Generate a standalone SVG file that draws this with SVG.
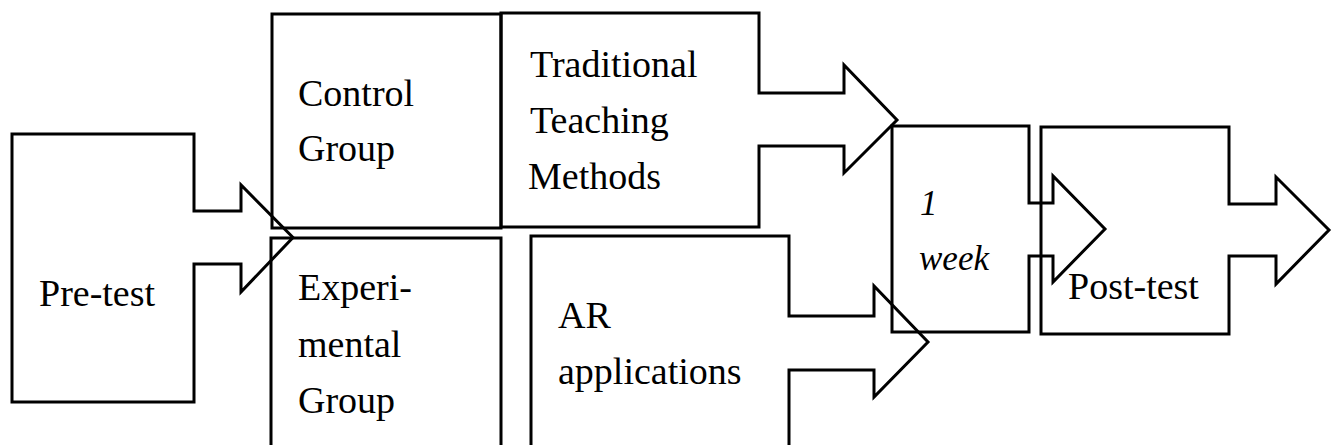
<svg xmlns="http://www.w3.org/2000/svg" width="1332" height="445" viewBox="0 0 1332 445">
<style>
.s{fill:none;stroke:#000;stroke-width:3;stroke-linejoin:miter}
.t{font-family:"Liberation Serif","Times New Roman",serif;font-size:38px;fill:#000}
.i{font-family:"Liberation Serif","Times New Roman",serif;font-size:35px;font-style:italic;fill:#000}
</style>
<rect width="1332" height="445" fill="#fff"/>
<g id="pretest">
<path class="s" d="M12,134 H194 V211 H241 V185 L293,237.5 L241,292 V264 H194 V402 H12 Z"/>
<text class="t" x="39" y="306">Pre-test</text>
</g>
<g id="control">
<rect class="s" x="272" y="14" width="229" height="214"/>
<text class="t" x="298" y="106">Control</text>
<text class="t" x="298" y="161">Group</text>
</g>
<g id="traditional">
<path class="s" d="M501,13 H759 V93 H844 V65 L897,120 L844,173 V146 H759 V227 H501 Z"/>
<text class="t" x="530" y="77">Traditional</text>
<text class="t" x="530" y="133">Teaching</text>
<text class="t" x="528" y="189">Methods</text>
</g>
<g id="experimental">
<path class="s" d="M271,460 V238 H501 V460"/>
<text class="t" x="298" y="300">Experi-</text>
<text class="t" x="298" y="357">mental</text>
<text class="t" x="298" y="413">Group</text>
</g>
<g id="ar">
<path class="s" d="M531,460 V236 H789 V316 H874 V286 L928,342 L874,397 V370 H789 V460"/>
<text class="t" x="558" y="328">AR</text>
<text class="t" x="558" y="384">applications</text>
</g>
<g id="week">
<path class="s" d="M892,126 H1029 V203 H1053 V176 L1105,229 L1053,282 V256 H1029 V332 H892 Z"/>
<text class="i" x="920" y="215">1</text>
<text class="i" x="919" y="270">week</text>
</g>
<g id="posttest">
<path class="s" d="M1041,127 H1229 V204 H1276 V177 L1329,230 L1276,284 V256 H1229 V334 H1041 Z"/>
<text class="t" x="1068" y="299">Post-test</text>
</g>
</svg>
